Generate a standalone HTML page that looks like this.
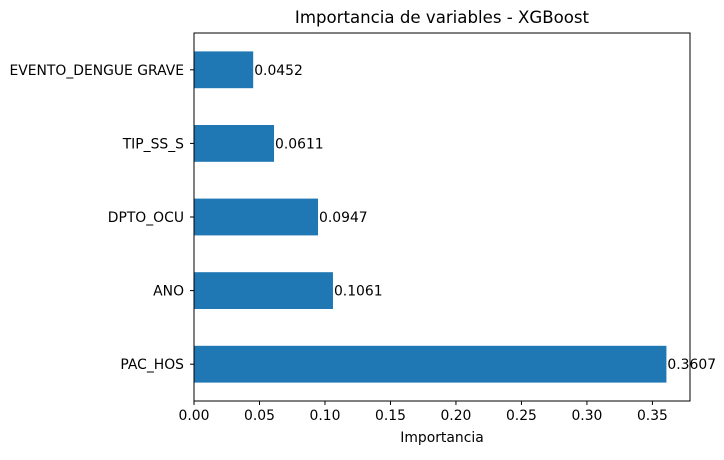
<!DOCTYPE html>
<html><head><meta charset="utf-8"><style>
body{margin:0;background:#fff;font-family:"Liberation Sans","DejaVu Sans",sans-serif;}
svg text{font-family:"DejaVu Sans","Liberation Sans",sans-serif;}
</style></head><body>
<svg id="chart" width="724" height="455" xmlns="http://www.w3.org/2000/svg">
<text x="442" y="23" font-size="16.6" text-anchor="middle" fill="#000">Importancia de variables - XGBoost</text>
<g id="bars"></g>
<g id="xticks"></g>
<g id="yticks"></g>
<rect x="194" y="33" width="496" height="368" fill="none" stroke="#000" stroke-width="1"/>
<text x="442" y="442" font-size="13.9" text-anchor="middle">Importancia</text>
</svg>
<script>
const categories = ["PAC_HOS","ANO","DPTO_OCU","TIP_SS_S","EVENTO_DENGUE GRAVE"];
const values = [0.3607,0.1061,0.0947,0.0611,0.0452];
const valueLabels = ["0.3607","0.1061","0.0947","0.0611","0.0452"];
const xTicks = [0,0.05,0.10,0.15,0.20,0.25,0.30,0.35];
const xTickLabels = ["0.00","0.05","0.10","0.15","0.20","0.25","0.30","0.35"];
const NS="http://www.w3.org/2000/svg";
const L=194,R=690,T=33,B=401,XMAX=0.3787;
const x=v=>L+v/XMAX*(R-L);
const step=(B-T)/categories.length;
const yc=i=>B-step*(i+0.5);
function mk(t,a,p){const e=document.createElementNS(NS,t);for(const k in a)e.setAttribute(k,a[k]);p.appendChild(e);return e;}
const gb=document.getElementById('bars'),gx=document.getElementById('xticks'),gy=document.getElementById('yticks');
categories.forEach((c,i)=>{
 const h=step*0.5;
 const r=mk('rect',{x:L,y:yc(i)-h/2,width:x(values[i])-L,height:h,fill:'#1f77b4'},gb);
 
 
 const t=mk('text',{x:x(values[i])+1,y:yc(i)+5,'font-size':13.9},gb);t.textContent=valueLabels[i];
 
 
 const tk=mk('line',{x1:L-4,x2:L,y1:yc(i),y2:yc(i),stroke:'#000'},gy);
 
 
 const yl=mk('text',{x:L-10,y:yc(i)+5,'font-size':13.9,'text-anchor':'end'},gy);yl.textContent=c;
 
 
});
xTicks.forEach((v,i)=>{
 const tk=mk('line',{x1:x(v),x2:x(v),y1:B,y2:B+4,stroke:'#000'},gx);
 
 
 const t=mk('text',{x:x(v),y:B+19,'font-size':13.9,'text-anchor':'middle'},gx);t.textContent=xTickLabels[i];
 
 
});
</script>
</body></html>
